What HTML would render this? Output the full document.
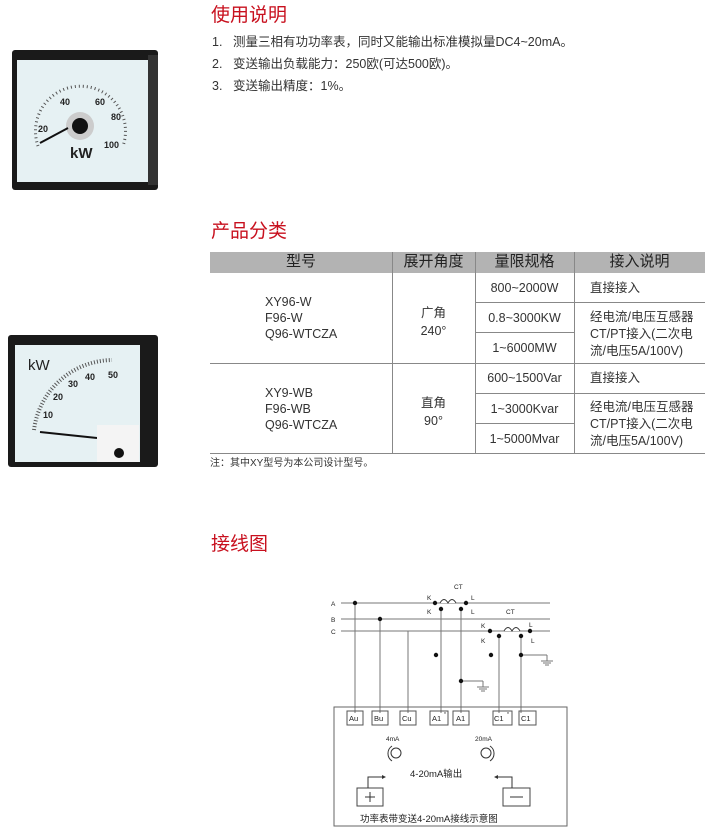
<!DOCTYPE html>
<html><head><meta charset="utf-8"><style>
*{margin:0;padding:0;box-sizing:border-box}
body{width:710px;height:838px;background:#fff;position:relative;font-family:"Liberation Sans","Noto Sans CJK SC",sans-serif;color:#333;overflow:hidden}
.h{position:absolute;left:211px;font-size:19px;color:#c8101e;line-height:20px}
.t{position:absolute;left:212px;font-size:12.5px;line-height:14px;color:#333;white-space:nowrap}
.t span{display:inline-block;width:21px}
.c{position:absolute;font-size:12.5px;line-height:16px;color:#333}
.hd{font-size:15px!important;color:#222!important}
.hl{position:absolute;background:#888;height:1px}
.vl{position:absolute;background:#888;width:1px}
</style></head><body>
<div class="h" style="top:6px">使用说明</div>
<div class="t" style="top:35px"><span>1.</span>测量三相有功功率表，同时又能输出标准模拟量DC4~20mA。</div>
<div class="t" style="top:57px"><span>2.</span>变送输出负载能力：250欧(可达500欧)。</div>
<div class="t" style="top:79px"><span>3.</span>变送输出精度：1%。</div>
<div class="h" style="top:222px">产品分类</div>
<div class="h" style="top:535px">接线图</div>

<!-- table -->
<div style="position:absolute;left:210px;top:252px;width:495px;height:21px;background:#b3b3b3"></div>
<div class="c hd" style="left:210px;width:182px;top:254px;text-align:center">型号</div>
<div class="c hd" style="left:392px;width:83px;top:254px;text-align:center">展开角度</div>
<div class="c hd" style="left:475px;width:99px;top:254px;text-align:center">量限规格</div>
<div class="c hd" style="left:574px;width:131px;top:254px;text-align:center">接入说明</div>
<div class="vl" style="left:392px;top:252px;height:201px"></div>
<div class="vl" style="left:475px;top:252px;height:201px"></div>
<div class="vl" style="left:574px;top:252px;height:201px"></div>
<div class="hl" style="left:475px;top:302px;width:230px"></div>
<div class="hl" style="left:475px;top:332px;width:99px"></div>
<div class="hl" style="left:210px;top:363px;width:495px"></div>
<div class="hl" style="left:475px;top:393px;width:230px"></div>
<div class="hl" style="left:475px;top:423px;width:99px"></div>
<div class="hl" style="left:210px;top:453px;width:495px"></div>
<div class="c" style="left:265px;top:294px">XY96-W<br>F96-W<br>Q96-WTCZA</div>
<div class="c" style="left:265px;top:385px">XY9-WB<br>F96-WB<br>Q96-WTCZA</div>
<div class="c" style="left:392px;width:83px;top:304px;text-align:center;line-height:18px">广角<br>240°</div>
<div class="c" style="left:392px;width:83px;top:394px;text-align:center;line-height:18px">直角<br>90°</div>
<div class="c" style="left:475px;width:99px;top:280px;text-align:center">800~2000W</div>
<div class="c" style="left:475px;width:99px;top:310px;text-align:center">0.8~3000KW</div>
<div class="c" style="left:475px;width:99px;top:340px;text-align:center">1~6000MW</div>
<div class="c" style="left:475px;width:99px;top:370px;text-align:center">600~1500Var</div>
<div class="c" style="left:475px;width:99px;top:401px;text-align:center">1~3000Kvar</div>
<div class="c" style="left:475px;width:99px;top:431px;text-align:center">1~5000Mvar</div>
<div class="c" style="left:590px;top:280px">直接接入</div>
<div class="c" style="left:590px;top:370px">直接接入</div>
<div class="c" style="left:590px;top:309px;line-height:17px">经电流/电压互感器<br>CT/PT接入(二次电<br>流/电压5A/100V)</div>
<div class="c" style="left:590px;top:399px;line-height:17px">经电流/电压互感器<br>CT/PT接入(二次电<br>流/电压5A/100V)</div>
<div class="c" style="left:210px;top:456px;font-size:10px">注：其中XY型号为本公司设计型号。</div>

<!-- meters -->
<svg style="position:absolute;left:0;top:0" width="200" height="480">
<rect x="12" y="50" width="146" height="140" rx="3" fill="#1a1a1a"/>
<rect x="148" y="55" width="10" height="130" fill="#333"/>
<rect x="17" y="60" width="131" height="122" fill="#e6f1f3"/>
<g font-family="Liberation Sans" font-weight="bold" font-size="9" fill="#222">
<text x="60" y="105">40</text><text x="95" y="105">60</text><text x="38" y="132">20</text><text x="111" y="120">80</text><text x="104" y="148">100</text>
<text x="70" y="158" font-size="15">kW</text></g>
<path d="M38 146 A45 45 0 1 1 123 146" fill="none" stroke="#555" stroke-width="3" stroke-dasharray="1 3"/>
<circle cx="80" cy="126" r="14" fill="#ccc"/><circle cx="80" cy="126" r="8" fill="#111"/>
<line x1="40" y1="143" x2="68" y2="128" stroke="#111" stroke-width="2"/>
<rect x="8" y="335" width="150" height="132" rx="3" fill="#1a1a1a"/>
<rect x="15" y="345" width="125" height="117" fill="#e6f1f3"/>
<g font-family="Liberation Sans" font-weight="bold" font-size="9" fill="#222">
<text x="28" y="370" font-size="15" font-weight="normal">kW</text>
<text x="108" y="378">50</text><text x="85" y="380">40</text><text x="68" y="387">30</text><text x="53" y="400">20</text><text x="43" y="418">10</text></g>
<path d="M34 430 A80 80 0 0 1 112 360" fill="none" stroke="#555" stroke-width="4" stroke-dasharray="1 2"/>
<line x1="40" y1="432" x2="97" y2="438" stroke="#111" stroke-width="2"/>
<rect x="97" y="425" width="42" height="37" fill="#f4f4f4"/>
<circle cx="119" cy="453" r="5" fill="#111"/>
</svg>

<!-- wiring -->
<svg style="position:absolute;left:0;top:0" width="710" height="838" font-family="Liberation Sans" font-size="6.5" fill="#222">
<g stroke="#777" stroke-width="1" fill="none">
<line x1="341" y1="603" x2="550" y2="603"/><line x1="341" y1="619" x2="550" y2="619"/><line x1="341" y1="631" x2="550" y2="631"/>
<line x1="355" y1="603" x2="355" y2="713"/><line x1="380" y1="619" x2="380" y2="713"/><line x1="408" y1="631" x2="408" y2="713"/>
<line x1="441" y1="609" x2="441" y2="713"/><line x1="461" y1="609" x2="461" y2="713"/>
<line x1="499" y1="636" x2="499" y2="713"/><line x1="521" y1="636" x2="521" y2="713"/>
<line x1="461" y1="681" x2="483" y2="681"/><line x1="483" y1="681" x2="483" y2="687"/>
<line x1="521" y1="655" x2="547" y2="655"/><line x1="547" y1="655" x2="547" y2="661"/>
<line x1="477" y1="687" x2="489" y2="687"/><line x1="479" y1="689" x2="487" y2="689"/><line x1="481" y1="691" x2="485" y2="691"/>
<line x1="541" y1="661" x2="553" y2="661"/><line x1="543" y1="663" x2="551" y2="663"/><line x1="545" y1="665" x2="549" y2="665"/>
<path d="M440 603 q4 -7 8 0 q4 -7 8 0" stroke="#333" fill="#fff"/>
<path d="M504 631 q4 -7 8 0 q4 -7 8 0" stroke="#333" fill="#fff"/>
<rect x="334" y="707" width="233" height="119" stroke="#666"/>
<rect x="347" y="711" width="16" height="14" stroke="#555"/><rect x="372" y="711" width="16" height="14" stroke="#555"/><rect x="400" y="711" width="16" height="14" stroke="#555"/>
<rect x="430" y="711" width="18" height="14" stroke="#555"/><rect x="453" y="711" width="16" height="14" stroke="#555"/>
<rect x="493" y="711" width="19" height="14" stroke="#555"/><rect x="519" y="711" width="17" height="14" stroke="#555"/>
<circle cx="396" cy="753" r="5" stroke="#333"/><circle cx="486" cy="753" r="5" stroke="#333"/>
<path d="M392 746 A9 9 0 0 0 392 761" stroke="#333"/><path d="M490 746 A9 9 0 0 1 490 761" stroke="#333"/>
<rect x="357" y="788" width="26" height="18" stroke="#444"/><rect x="503" y="788" width="27" height="18" stroke="#444"/>
<line x1="370" y1="792" x2="370" y2="802" stroke="#333"/><line x1="365" y1="797" x2="375" y2="797" stroke="#333"/>
<line x1="510" y1="797" x2="523" y2="797" stroke="#333"/>
<path d="M368 788 V777 H385" stroke="#333"/><path d="M512 788 V777 H495" stroke="#333"/>
</g>
<path d="M386 777 l-4 -2 v4z M494 777 l4 -2 v4z" fill="#333"/>
<g fill="#111">
<circle cx="355" cy="603" r="2.2"/><circle cx="380" cy="619" r="2.2"/>
<circle cx="435" cy="603" r="2.2"/><circle cx="466" cy="603" r="2.2"/><circle cx="441" cy="609" r="2.2"/><circle cx="461" cy="609" r="2.2"/>
<circle cx="490" cy="631" r="2.2"/><circle cx="530" cy="631" r="2.2"/><circle cx="499" cy="636" r="2.2"/><circle cx="521" cy="636" r="2.2"/>
<circle cx="436" cy="655" r="2.2"/><circle cx="491" cy="655" r="2.2"/><circle cx="461" cy="681" r="2.2"/><circle cx="521" cy="655" r="2.2"/>
</g>
<text x="331" y="606">A</text><text x="331" y="622">B</text><text x="331" y="634">C</text>
<text x="454" y="589">CT</text><text x="506" y="614">CT</text>
<text x="427" y="600">K</text><text x="427" y="614">K</text><text x="471" y="600">L</text><text x="471" y="614">L</text>
<text x="481" y="628">K</text><text x="481" y="643">K</text><text x="529" y="627">L</text><text x="531" y="643">L</text>
<g font-size="7.5"><text x="349" y="721">Au</text><text x="374" y="721">Bu</text><text x="402" y="721">Cu</text><text x="432" y="721">A1</text><text x="456" y="721">A1</text><text x="494" y="721">C1</text><text x="521" y="721">C1</text></g>
<text x="444" y="716" font-size="5">*</text><text x="507" y="716" font-size="5">*</text>
<text x="386" y="741">4mA</text><text x="475" y="741">20mA</text>
<text x="410" y="777" font-size="9.5">4-20mA输出</text>
<text x="360" y="822" font-size="9.5">功率表带变送4-20mA接线示意图</text>
</svg>
</body></html>
